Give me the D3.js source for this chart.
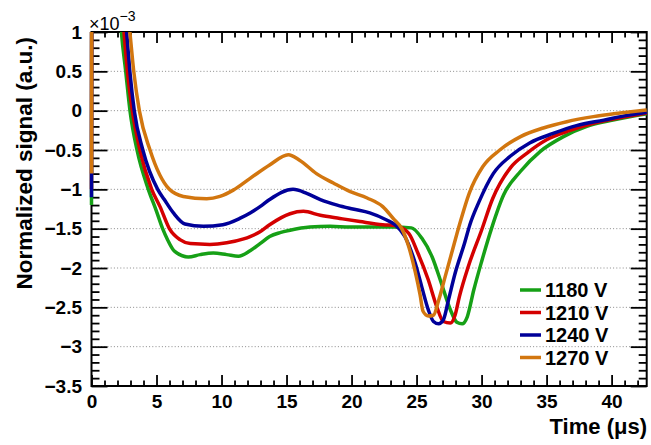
<!DOCTYPE html>
<html>
<head>
<meta charset="utf-8">
<script src="https://cdn.jsdelivr.net/npm/d3@7"></script>
<style>
  html, body { margin: 0; padding: 0; background: #fff; }
  svg { display: block; }
  text { font-family: "Liberation Sans", Arial, Helvetica, sans-serif; }
</style>
</head>
<body>
<svg id="chart" width="651" height="445"></svg>
<script>
// ---- data: [time (µs), signal (×1e-3)] ----
const labels = ["1180 V", "1210 V", "1240 V", "1270 V"];
const colors = ["#16a016", "#d40000", "#000099", "#d2760f"];

const s1180 = [[0,-1.2],[0.05,6],[1.8,2.5],[2.3,1.0],[2.63,0.5],[2.96,0.0],[3.5,-0.5],[4.37,-1.0],[5.0,-1.28],[5.47,-1.5],[5.85,-1.64],[6.4,-1.79],[7.45,-1.86],[8.35,-1.83],[9.37,-1.81],[10.4,-1.83],[11.3,-1.85],[12.2,-1.78],[12.96,-1.69],[13.7,-1.60],[14.5,-1.55],[15.27,-1.52],[16.8,-1.48],[18.35,-1.47],[19.9,-1.48],[21.4,-1.48],[23.2,-1.48],[24.6,-1.49],[25.4,-1.62],[26.2,-1.86],[26.9,-2.19],[27.6,-2.53],[28.1,-2.69],[28.5,-2.71],[28.9,-2.62],[29.4,-2.28],[30.0,-1.92],[30.8,-1.48],[31.7,-1.07],[33.0,-0.77],[34.5,-0.52],[36.3,-0.33],[38.1,-0.20],[40.1,-0.12],[42.7,-0.04]];

const s1210 = [[0,-1.0],[0.05,6],[1.8,2.5],[2.5,1.0],[2.76,0.5],[3.14,0.0],[3.72,-0.5],[4.63,-1.0],[5.27,-1.22],[5.99,-1.5],[6.8,-1.64],[7.6,-1.69],[9.1,-1.70],[10.4,-1.68],[11.7,-1.63],[12.2,-1.60],[12.96,-1.54],[13.7,-1.45],[15.27,-1.31],[16.3,-1.28],[17.6,-1.33],[19.1,-1.37],[20.65,-1.41],[22.4,-1.45],[23.35,-1.46],[24.4,-1.56],[25.1,-1.81],[25.9,-2.15],[26.55,-2.49],[27.06,-2.68],[27.6,-2.70],[27.96,-2.60],[28.3,-2.36],[28.98,-1.98],[30.0,-1.52],[30.85,-1.12],[32.2,-0.73],[33.5,-0.54],[35.0,-0.37],[36.8,-0.25],[38.6,-0.16],[40.65,-0.09],[42.7,-0.03]];

const s1240 = [[0,-1.1],[0.05,6],[1.8,2.5],[2.7,1.0],[2.95,0.5],[3.29,0.0],[3.95,-0.5],[5.09,-1.0],[5.6,-1.13],[6.3,-1.30],[7.19,-1.44],[8.6,-1.47],[10.1,-1.45],[11.4,-1.37],[12.2,-1.30],[12.96,-1.22],[13.7,-1.13],[15.5,-1.00],[16.55,-1.05],[17.6,-1.13],[18.9,-1.20],[20.1,-1.25],[21.4,-1.30],[22.7,-1.39],[23.35,-1.45],[24.1,-1.60],[24.9,-1.94],[25.4,-2.24],[25.9,-2.53],[26.3,-2.68],[26.7,-2.71],[27.06,-2.66],[27.45,-2.41],[27.96,-2.07],[28.7,-1.68],[29.1,-1.45],[29.8,-1.16],[30.9,-0.80],[32.2,-0.58],[33.7,-0.41],[35.5,-0.29],[37.3,-0.19],[39.4,-0.12],[41.2,-0.06],[42.7,-0.02]];

const s1270 = [[0,-0.8],[0.05,6],[1.8,2.5],[2.95,1.0],[3.25,0.5],[3.68,0.0],[4.5,-0.5],[5.99,-1.0],[7.06,-1.09],[8.86,-1.12],[9.88,-1.09],[10.9,-1.01],[12.2,-0.86],[13.7,-0.69],[15.14,-0.56],[16.0,-0.63],[17.3,-0.80],[18.6,-0.92],[19.9,-1.03],[21.2,-1.11],[22.4,-1.22],[23.2,-1.37],[23.86,-1.50],[24.4,-1.73],[24.9,-2.05],[25.27,-2.34],[25.5,-2.55],[25.9,-2.61],[26.3,-2.60],[26.7,-2.41],[27.2,-2.11],[27.7,-1.81],[28.3,-1.45],[29.05,-1.05],[30.1,-0.71],[31.4,-0.50],[33.0,-0.33],[34.75,-0.22],[36.55,-0.14],[38.6,-0.076],[40.65,-0.03],[42.7,0.01]];

const xMajor = [0, 5, 10, 15, 20, 25, 30, 35, 40];
const yMajor = [1, 0.5, 0, -0.5, -1, -1.5, -2, -2.5, -3, -3.5];
const yGrid = [0.5, 0, -0.5, -1, -1.5, -2, -2.5, -3];

const series = [s1180, s1210, s1240, s1270];

// ---- layout ----
const svg = d3.select("#chart");
const L = 91.5, R = 646.7, T = 32, B = 386;
const x = d3.scaleLinear().domain([0, 42.7]).range([L, R]);
const y = d3.scaleLinear().domain([-3.5, 1]).range([B, T]);

const xMinor = d3.range(0, 43, 1).filter(v => v % 5 !== 0);
const yMinor = d3.range(-35, 11, 1).map(v => v / 10).filter(v => Math.round(v * 10) % 5 !== 0);

// grid
svg.append("g").selectAll("line").data(yGrid).join("line")
  .attr("x1", L).attr("x2", R)
  .attr("y1", d => y(d)).attr("y2", d => y(d))
  .attr("stroke", "#8a8a8a").attr("stroke-width", 1).attr("stroke-dasharray", "1,2.2");

// frame
svg.append("rect").attr("x", L).attr("y", T).attr("width", R - L).attr("height", B - T)
  .attr("fill", "none").attr("stroke", "#000").attr("stroke-width", 2);

function styleAxis(g) {
  g.select(".domain").remove();
  g.selectAll(".tick line").attr("stroke", "#000").attr("stroke-width", 1.8);
}

const fmt = d3.format("~g");
// bottom axis
const gx = svg.append("g").attr("transform", `translate(0,${B})`)
  .call(d3.axisBottom(x).tickValues(xMajor).tickSize(-11).tickPadding(9).tickFormat(fmt));
styleAxis(gx);
gx.selectAll("text").attr("font-size", 19).attr("font-weight", "bold").attr("fill", "#000");
const gxm = svg.append("g").attr("transform", `translate(0,${B})`)
  .call(d3.axisBottom(x).tickValues(xMinor).tickSize(-5.5).tickFormat(""));
styleAxis(gxm);

// top axis
const gt = svg.append("g").attr("transform", `translate(0,${T})`)
  .call(d3.axisTop(x).tickValues(xMajor).tickSize(-11).tickFormat(""));
styleAxis(gt);
const gtm = svg.append("g").attr("transform", `translate(0,${T})`)
  .call(d3.axisTop(x).tickValues(xMinor).tickSize(-5.5).tickFormat(""));
styleAxis(gtm);

// left axis
const gy = svg.append("g").attr("transform", `translate(${L},0)`)
  .call(d3.axisLeft(y).tickValues(yMajor).tickSize(-16).tickPadding(9.5).tickFormat(fmt));
styleAxis(gy);
gy.selectAll("text").attr("font-size", 19).attr("font-weight", "bold").attr("fill", "#000");
const gym = svg.append("g").attr("transform", `translate(${L},0)`)
  .call(d3.axisLeft(y).tickValues(yMinor).tickSize(-8).tickFormat(""));
styleAxis(gym);

// right axis
const gr = svg.append("g").attr("transform", `translate(${R},0)`)
  .call(d3.axisRight(y).tickValues(yMajor).tickSize(-16).tickFormat(""));
styleAxis(gr);
const grm = svg.append("g").attr("transform", `translate(${R},0)`)
  .call(d3.axisRight(y).tickValues(yMinor).tickSize(-8).tickFormat(""));
styleAxis(grm);

// exponent label
const ex = svg.append("text").attr("x", 89).attr("y", 29.5).attr("font-size", 18).attr("fill", "#000");
ex.append("tspan").text("×10");
ex.append("tspan").attr("font-size", 14).attr("dy", -9).text("−3");

// axis titles
svg.append("text")
  .attr("transform", `translate(32,37) rotate(-90)`)
  .attr("text-anchor", "end").attr("font-size", 22.5).attr("font-weight", "bold")
  .text("Normalized signal (a.u.)");
svg.append("text")
  .attr("x", 647).attr("y", 433.5)
  .attr("text-anchor", "end").attr("font-size", 22).attr("font-weight", "bold")
  .text("Time (μs)");

// curves
svg.append("clipPath").attr("id", "clip").append("rect")
  .attr("x", L - 4).attr("y", T).attr("width", R - L + 8).attr("height", B - T);
const line = d3.line().x(d => x(d[0])).y(d => y(d[1])).curve(d3.curveMonotoneX);
const gc = svg.append("g").attr("clip-path", "url(#clip)");
series.forEach((pts, i) => {
  gc.append("path").datum(pts).attr("d", line)
    .attr("fill", "none").attr("stroke", colors[i]).attr("stroke-width", 3.5)
    .attr("stroke-linejoin", "round");
});

// legend
const legY = [290, 312.5, 335, 357.5];
const lg = svg.append("g");
labels.forEach((lab, i) => {
  lg.append("line").attr("x1", 520).attr("x2", 541).attr("y1", legY[i]).attr("y2", legY[i])
    .attr("stroke", colors[i]).attr("stroke-width", 3.5);
  lg.append("text").attr("x", 545).attr("y", legY[i]).attr("dy", "0.36em")
    .attr("font-size", 20).attr("font-weight", "bold").attr("fill", "#000").text(lab);
});
</script>
</body>
</html>
